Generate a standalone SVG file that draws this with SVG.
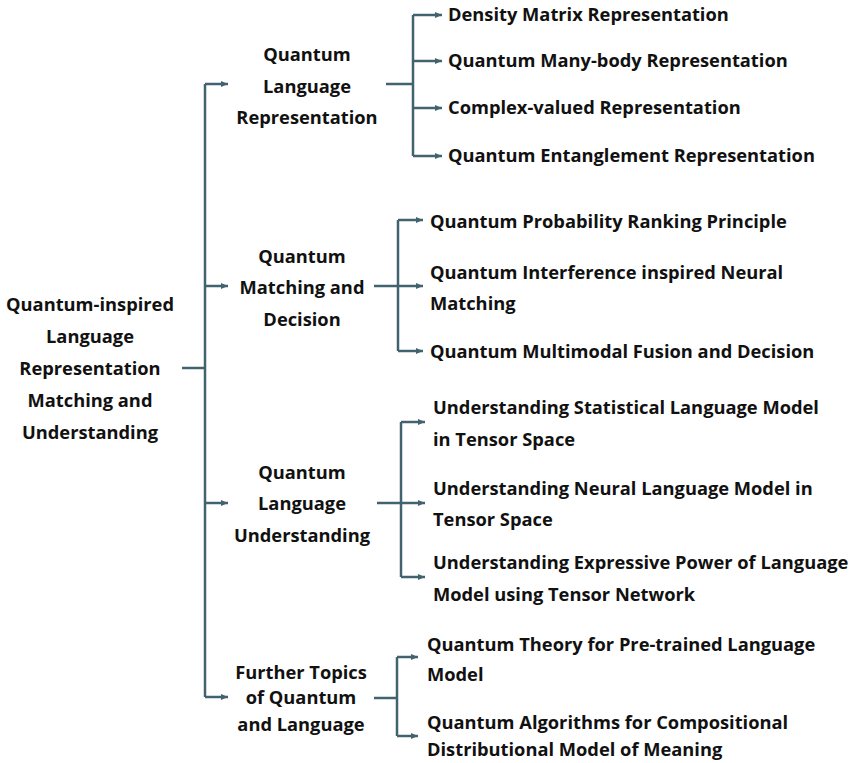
<svg xmlns="http://www.w3.org/2000/svg" width="851" height="763" viewBox="0 0 851 763">
<style>
text{font-family:"Open Sans","Noto Sans","Liberation Sans",sans-serif;font-weight:700;font-size:18.3px;fill:#111}
.c{text-anchor:middle}
.ln{fill:none;stroke:#41636f;stroke-width:2.5}
</style>
<defs>
<marker id="ah" markerWidth="8" markerHeight="8" refX="7" refY="4" orient="auto" markerUnits="userSpaceOnUse">
<path d="M0,1 L7,4 L0,7 Z" fill="#41636f"/>
</marker>
</defs>
<rect width="851" height="763" fill="#fff"/>
<g id="connectors">
<path class="ln" d="M182,368 H205"/>
<path class="ln" d="M205,84 V697"/>
<path class="ln" d="M205,84 H228" marker-end="url(#ah)"/>
<path class="ln" d="M205,286 H228" marker-end="url(#ah)"/>
<path class="ln" d="M205,503 H228" marker-end="url(#ah)"/>
<path class="ln" d="M205,697 H228" marker-end="url(#ah)"/>

<path class="ln" d="M386,84 H413"/>
<path class="ln" d="M413,15 V156"/>
<path class="ln" d="M413,15 H442" marker-end="url(#ah)"/>
<path class="ln" d="M413,61 H442" marker-end="url(#ah)"/>
<path class="ln" d="M413,108 H442" marker-end="url(#ah)"/>
<path class="ln" d="M413,156 H442" marker-end="url(#ah)"/>

<path class="ln" d="M374,286 H398"/>
<path class="ln" d="M398,220 V351"/>
<path class="ln" d="M398,220 H423" marker-end="url(#ah)"/>
<path class="ln" d="M398,286 H423" marker-end="url(#ah)"/>
<path class="ln" d="M398,351 H423" marker-end="url(#ah)"/>

<path class="ln" d="M377,503 H401"/>
<path class="ln" d="M401,422 V577"/>
<path class="ln" d="M401,422 H425" marker-end="url(#ah)"/>
<path class="ln" d="M401,503 H425" marker-end="url(#ah)"/>
<path class="ln" d="M401,577 H425" marker-end="url(#ah)"/>

<path class="ln" d="M374,698 H397"/>
<path class="ln" d="M397,657 V736"/>
<path class="ln" d="M397,657 H418" marker-end="url(#ah)"/>
<path class="ln" d="M397,736 H418" marker-end="url(#ah)"/>
</g>
<g id="root">
<text class="c" x="90" y="311">Quantum-inspired</text>
<text class="c" x="90" y="343">Language</text>
<text class="c" x="90" y="375">Representation</text>
<text class="c" x="90" y="407">Matching and</text>
<text class="c" x="90" y="439">Understanding</text>
</g>
<g id="qlr">
<text class="c" x="307" y="61">Quantum</text>
<text class="c" x="307" y="93">Language</text>
<text class="c" x="307" y="124">Representation</text>
</g>
<g id="qmd">
<text class="c" x="302" y="263">Quantum</text>
<text class="c" x="302" y="294">Matching and</text>
<text class="c" x="302" y="326">Decision</text>
</g>
<g id="qlu">
<text class="c" x="302" y="479">Quantum</text>
<text class="c" x="302" y="510">Language</text>
<text class="c" x="302" y="542">Understanding</text>
</g>
<g id="ft">
<text class="c" x="301" y="679">Further Topics</text>
<text class="c" x="301" y="704">of Quantum</text>
<text class="c" x="301" y="731">and Language</text>
</g>
<g id="l-dm"><text x="448" y="21">Density Matrix Representation</text></g>
<g id="l-mb"><text x="448" y="67">Quantum Many-body Representation</text></g>
<g id="l-cv"><text x="448" y="114">Complex-valued Representation</text></g>
<g id="l-qe"><text x="448" y="162">Quantum Entanglement Representation</text></g>
<g id="l-prp"><text x="430" y="228">Quantum Probability Ranking Principle</text></g>
<g id="l-qin"><text x="430" y="279">Quantum Interference inspired Neural</text><text x="430" y="310">Matching</text></g>
<g id="l-mfd"><text x="430" y="358">Quantum Multimodal Fusion and Decision</text></g>
<g id="l-slm"><text x="433" y="414">Understanding Statistical Language Model</text><text x="433" y="446">in Tensor Space</text></g>
<g id="l-nlm"><text x="433" y="495">Understanding Neural Language Model in</text><text x="433" y="526">Tensor Space</text></g>
<g id="l-ep"><text x="433" y="569">Understanding Expressive Power of Language</text><text x="433" y="601">Model using Tensor Network</text></g>
<g id="l-pt"><text x="427" y="651">Quantum Theory for Pre-trained Language</text><text x="427" y="681">Model</text></g>
<g id="l-ca"><text x="427" y="729">Quantum Algorithms for Compositional</text><text x="427" y="756">Distributional Model of Meaning</text></g>
</svg>
